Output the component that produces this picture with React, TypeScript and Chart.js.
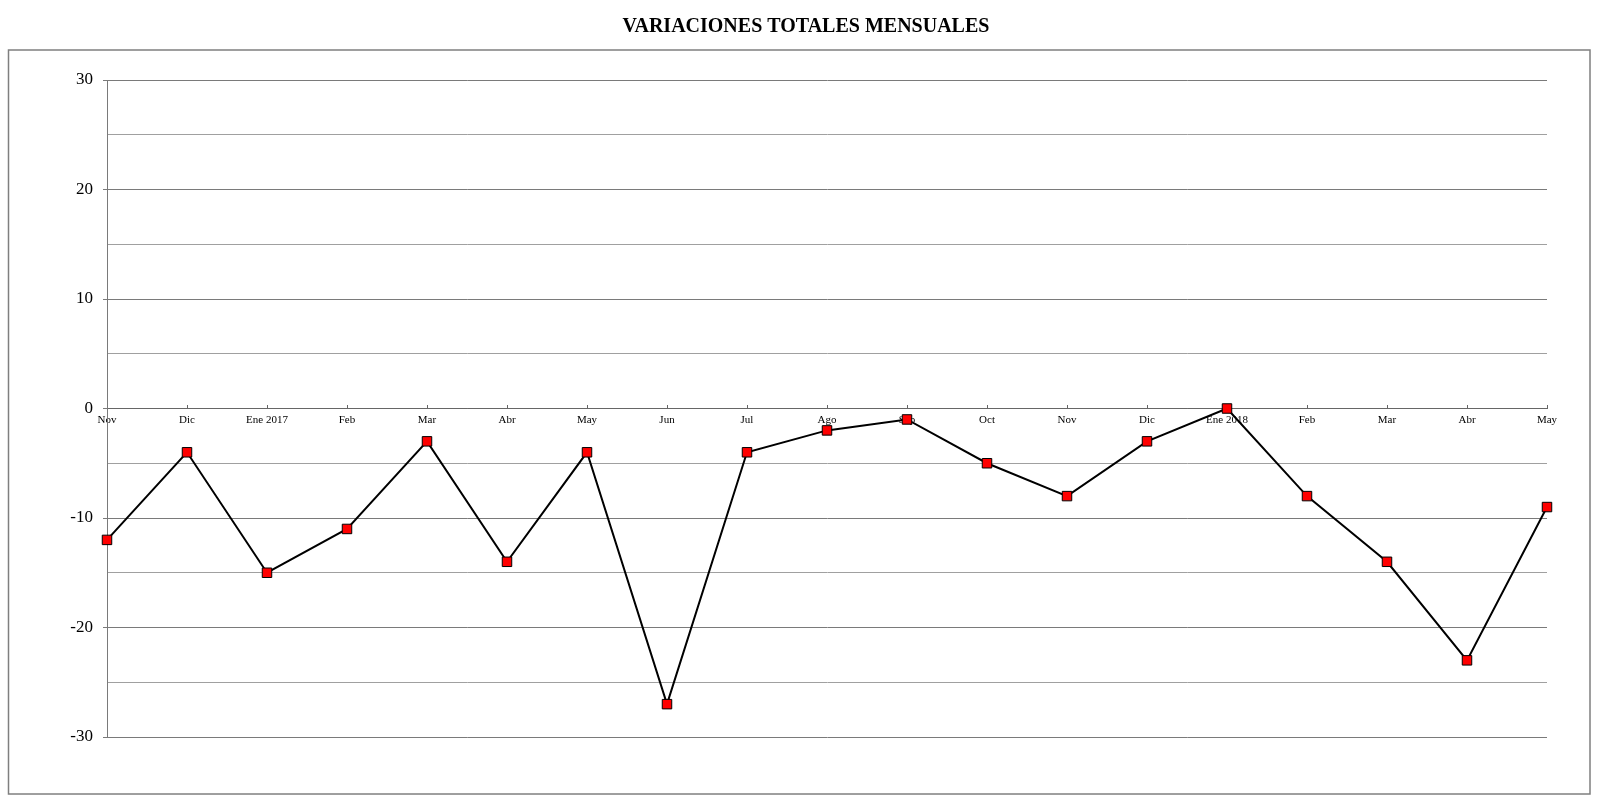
import React, { useEffect, useRef } from "react";
import { Chart, registerables } from "chart.js";

Chart.register(...registerables);

const titleText = "VARIACIONES TOTALES MENSUALES";
const categories = [
  "Nov", "Dic", "Ene 2017", "Feb", "Mar", "Abr", "May", "Jun", "Jul", "Ago",
  "Sep", "Oct", "Nov", "Dic", "Ene 2018", "Feb", "Mar", "Abr", "May",
];
const values = [-12, -4, -15, -11, -3, -14, -4, -27, -4, -2, -1, -5, -8, -3, 0, -8, -14, -23, -9];
const yMin = -30;
const yMax = 30;
const yStep = 5;
const yLabelStep = 10;

const SERIF = '"Liberation Serif", "Times New Roman", serif';

const framePlugin = {
  id: "frame",
  beforeDraw(chart: any) {
    const ctx = chart.ctx;
    ctx.save();
    ctx.fillStyle = "#ffffff";
    ctx.fillRect(0, 0, chart.width, chart.height);
    ctx.strokeStyle = "#7f7f7f";
    ctx.lineWidth = 1.5;
    ctx.strokeRect(8.5, 50, 1581.5, 744);
    ctx.fillStyle = "#000000";
    ctx.font = `bold 20px ${SERIF}`;
    ctx.textAlign = "center";
    ctx.textBaseline = "middle";
    ctx.fillText(titleText, 806, 27);
    ctx.restore();
  },
};

export default function App() {
  const canvasRef = useRef<HTMLCanvasElement | null>(null);

  useEffect(() => {
    const canvas = canvasRef.current;
    if (!canvas) return;
    const chart = new Chart(canvas, {
      type: "line",
      data: {
        labels: categories,
        datasets: [
          {
            data: values,
            borderColor: "#000000",
            borderWidth: 2,
            pointStyle: "rect",
            pointRadius: 6.7,
            pointBackgroundColor: "#ff0000",
            pointBorderColor: "#000000",
            pointBorderWidth: 1,
            tension: 0,
          },
        ],
      },
      options: {
        animation: false,
        responsive: false,
        events: [],
        layout: { padding: { left: 0, right: 53, top: 80, bottom: 66 } },
        plugins: {
          legend: { display: false },
          title: { display: false },
          tooltip: { enabled: false },
        },
        scales: {
          x: {
            type: "category",
            position: { y: 0 } as any,
            offset: false,
            grid: {
              drawOnChartArea: false,
              drawTicks: true,
              tickLength: -4,
              color: "#666666",
            },
            border: { color: "#666666", width: 1 },
            ticks: {
              autoSkip: false,
              maxRotation: 0,
              minRotation: 0,
              padding: 9,
              color: "#000000",
              font: { family: SERIF, size: 11 },
            },
          },
          y: {
            min: yMin,
            max: yMax,
            afterFit: (s: any) => {
              s.width = 107;
            },
            ticks: {
              stepSize: yStep,
              padding: 10,
              color: "#000000",
              font: { family: SERIF, size: 17 },
              callback: (v: any) => (Number(v) % yLabelStep === 0 ? String(v) : ""),
            },
            grid: {
              tickLength: 4,
              lineWidth: 1,
              color: (c: any) => (c.tick && c.tick.value % yLabelStep === 0 ? "#7a7a7a" : "#a0a0a0"),
              tickColor: (c: any) =>
                c.tick && c.tick.value % yLabelStep === 0 ? "#7a7a7a" : "rgba(0,0,0,0)",
            },
            border: { color: "#7a7a7a", width: 1 },
          },
        },
      },
      plugins: [framePlugin],
    });
    return () => chart.destroy();
  }, []);

  return (
    <div style={{ position: "absolute", left: 0, top: 0, width: 1600, height: 803 }}>
      <canvas ref={canvasRef} width={1600} height={803} style={{ display: "block" }} />
    </div>
  );
}
